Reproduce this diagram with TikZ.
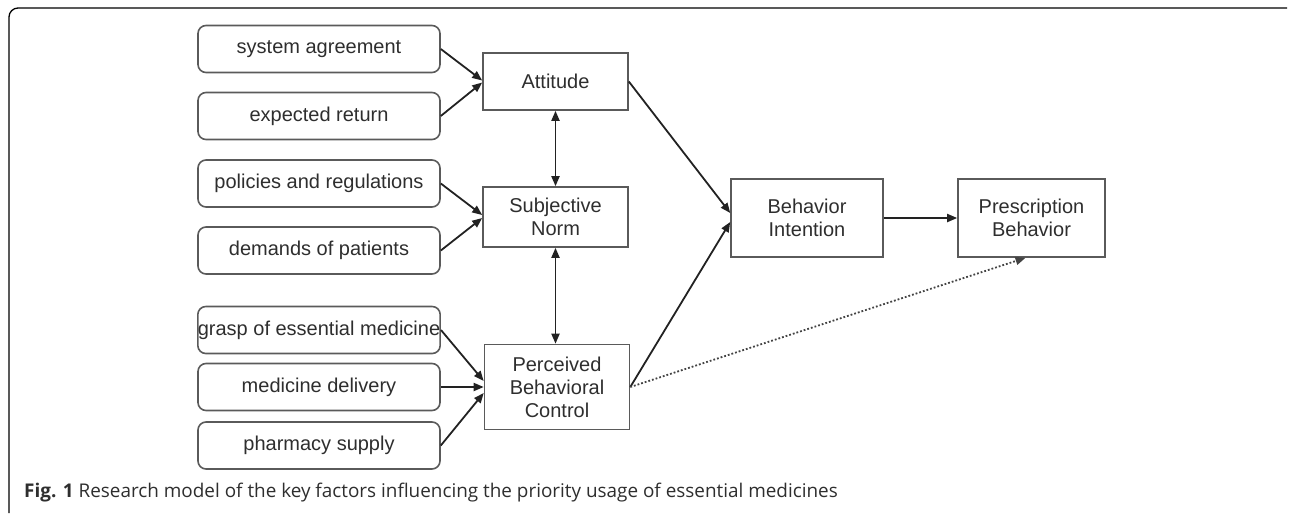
\documentclass[tikz,border=0pt]{standalone}
\usepackage{fontspec}
\setmainfont{Liberation Sans}
\newfontfamily\capfont{Open Sans}
\usetikzlibrary{arrows.meta,calc}
\definecolor{boxgray}{HTML}{5A5A5A}
\definecolor{txtgray}{HTML}{2E2E2E}
\definecolor{arrgray}{HTML}{222222}
\tikzset{
  factor/.style={draw=boxgray, line width=1.6pt, rounded corners=8pt, minimum width=242pt, minimum height=47pt, inner sep=0pt, text=txtgray, font=\fontsize{20}{23}\selectfont},
  construct/.style={draw=boxgray, line width=1.6pt, minimum width=145pt, inner sep=0pt, align=center, text=txtgray, font=\fontsize{20}{23}\selectfont},
  arr/.style={draw=arrgray, line width=1.8pt, -{Triangle[length=10pt,width=8pt]}},
  darr/.style={draw=arrgray, line width=1.8pt, {Triangle[length=10pt,width=8pt]}-{Triangle[length=10pt,width=8pt]}},
  dotarr/.style={draw=arrgray!85, line width=1.8pt, dotted, -{Triangle[length=10pt,width=8pt]}},
}
\begin{document}
\begin{tikzpicture}[x=1pt,y=-1pt]
\useasboundingbox (0,0) rectangle (1290,515);
% frame
\draw[line width=1.3pt, rounded corners=9pt] (9,513) -- (9,8) -- (1287,8);
% factors
\node[factor] (sa) at (319,49) {system agreement};
\node[factor] (er) at (319,116) {expected return};
\node[factor] (pr) at (319,183.5) {policies and regulations};
\node[factor] (dp) at (319,250.5) {demands of patients};
\node[factor] (gm) at (319,330) {grasp of essential medicine};
\node[factor] (md) at (319,387) {medicine delivery};
\node[factor] (ps) at (319,445.5) {pharmacy supply};
% constructs
\node[construct, minimum height=57pt] (att) at (555.5,81.5) {Attitude};
\node[construct, minimum height=60pt] (sn) at (555.5,217) {Subjective\\Norm};
\node[construct, minimum height=85pt] (pbc) at (557,387) {Perceived\\Behavioral\\Control};
\node[construct, minimum width=152pt, minimum height=78pt] (bi) at (807,218) {Behavior\\Intention};
\node[construct, minimum width=147pt, minimum height=78pt] (pb) at (1031.5,218) {Prescription\\Behavior};
% arrows
\draw[arr] (sa.east) -- ($(att.west)+(0,-1)$);
\draw[arr] (er.east) -- ($(att.west)+(0,1)$);
\draw[arr] (pr.east) -- ($(sn.west)+(0,-2)$);
\draw[arr] (dp.east) -- ($(sn.west)+(0,1)$);
\draw[arr] (gm.east) -- ($(pbc.west)+(0,-6)$);
\draw[arr] (md.east) -- (pbc.west);
\draw[arr] (ps.east) -- ($(pbc.west)+(0,6)$);
\draw[darr] (att.south) -- (sn.north);
\draw[darr] (sn.south) -- (sn.south |- pbc.north);
\draw[arr] (att.east) -- ($(bi.west)+(0,-5)$);
\draw[arr] (pbc.east) -- ($(bi.west)+(0,4)$);
\draw[arr] (bi.east) -- (pb.west);
\draw[dotarr] (pbc.east) -- ($(pb.south)+(-6,0)$);
% caption
\node[anchor=base west, inner sep=0pt, text=txtgray, font=\capfont\fontsize{18.9}{22}\selectfont] (cap) at (24,497) {\textbf{Fig. 1} Research model of the key factors influencing the priority usage of essential medicines};
\end{tikzpicture}
\end{document}
